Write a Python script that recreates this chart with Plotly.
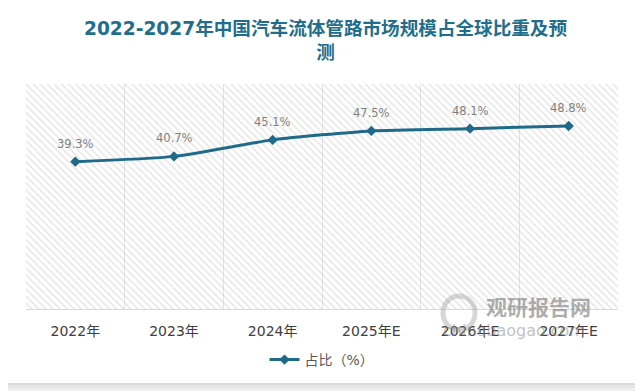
import plotly.graph_objects as go

categories = ["2022年", "2023年", "2024年", "2025年E", "2026年E", "2027年E"]
share_pct = [39.3, 40.7, 45.1, 47.5, 48.1, 48.8]
share_labels = ["39.3%", "40.7%", "45.1%", "47.5%", "48.1%", "48.8%"]
series_name = "占比（%）"
title_text = "2022-2027年中国汽车流体管路市场规模占全球比重及预<br>测"
y_max = 60

# page has an 8px body margin, so the figure is drawn 8px in from the top-left
OFF = 8
W, H = 643 - OFF, 391 - OFF
L, R, T, B = 26 - OFF, 643 - 618, 84 - OFF, 391 - 309
PW, PH = W - L - R, H - T - B

def px_x(x):
    # x in page pixels
    return (x - OFF - L) / PW

def px_y(y):
    return (H - B - (y - OFF)) / PH

FONT = "DejaVu Sans, Noto Sans CJK SC, sans-serif"
LINE_COLOR = "#1f6a8a"

fig = go.Figure()

# hatched plot background
fig.add_trace(go.Bar(
    x=categories, y=[y_max] * len(categories), width=1,
    marker=dict(color="rgba(0,0,0,0)", line=dict(width=0),
                pattern=dict(shape="\\", fgcolor="#c8c8c8", bgcolor="rgba(0,0,0,0)",
                             size=5, solidity=0.28)),
    showlegend=False, hoverinfo="skip",
))

fig.add_trace(go.Scatter(
    x=categories, y=share_pct, name=series_name,
    mode="lines+markers",
    line=dict(color=LINE_COLOR, width=3, shape="spline", smoothing=0.6),
    marker=dict(symbol="diamond", size=8, color=LINE_COLOR),
))

shapes = []
# card shadow (right and bottom edges)
for pad, col in [(8, "#f0f0f0"), (5, "#e6e6e6"), (2, "#dcdcdc")]:
    shapes.append(dict(type="rect", xref="paper", yref="paper", layer="below",
                       x0=px_x(0), x1=px_x(635 + pad),
                       y0=px_y(383 + pad), y1=px_y(0),
                       fillcolor=col, line=dict(width=0)))
shapes.append(dict(type="rect", xref="paper", yref="paper", layer="below",
                   x0=px_x(0), x1=px_x(635), y0=px_y(383), y1=px_y(0),
                   fillcolor="white", line=dict(width=0)))
# watermark logo ring
shapes.append(dict(type="circle", xref="paper", yref="paper", layer="above",
                   x0=px_x(443), x1=px_x(475), y0=px_y(330), y1=px_y(296),
                   fillcolor="rgba(0,0,0,0)", line=dict(width=5, color="rgba(140,140,140,0.35)")))

annotations = []
for c, v, t in zip(categories, share_pct, share_labels):
    annotations.append(dict(x=c, y=v, text=t, showarrow=False, yshift=18,
                            font=dict(family=FONT, size=11.5, color="#7f7f7f")))

annotations += [
    dict(text="观研报告网", xref="paper", yref="paper", x=px_x(538), y=px_y(306),
         xanchor="center", yanchor="middle",
         showarrow=False, font=dict(family="Noto Sans CJK SC", size=21,
                                    color="rgba(120,120,120,0.6)", weight="bold")),
    dict(text="chinabaogao.com", xref="paper", yref="paper", x=px_x(514), y=px_y(330),
         xanchor="center", yanchor="middle",
         showarrow=False, font=dict(family="DejaVu Sans", size=16, color="rgba(130,130,130,0.5)")),
]

fig.update_layout(
    width=W, height=H,
    margin=dict(l=L, r=R, t=T, b=B),
    paper_bgcolor="#f7f7f7", plot_bgcolor="white",
    title=dict(text=title_text, x=0.5, xanchor="center", xref="container",
               y=1 - 27 / H, yanchor="top", yref="container",
               font=dict(family=FONT, size=18.6, color="#216e8c", weight="bold")),
    xaxis=dict(tickson="boundaries", showgrid=True, gridcolor="#e3e3e3", gridwidth=1,
               showline=True, linecolor="#d9d9d9", linewidth=1, ticks="",
               ticklabelstandoff=9,
               tickfont=dict(family=FONT, size=14, color="#404040"),
               range=[-0.5, 5.5]),
    yaxis=dict(range=[0, y_max], showgrid=False, showticklabels=False, zeroline=False,
               showline=False, ticks=""),
    bargap=0,
    showlegend=True,
    legend=dict(orientation="h", x=0.5, xanchor="center", y=px_y(360), yanchor="middle",
                font=dict(family=FONT, size=14, color="#595959"), bgcolor="rgba(0,0,0,0)"),
    shapes=shapes, annotations=annotations,
)

fig.write_html("out.html")
